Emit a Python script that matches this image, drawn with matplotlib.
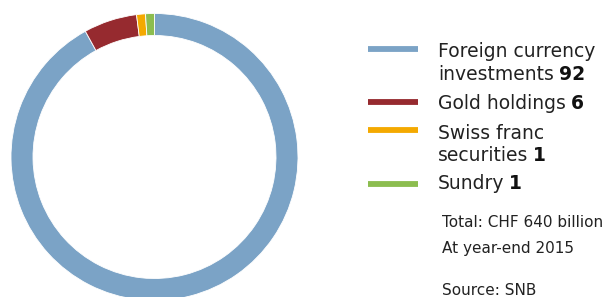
import matplotlib
matplotlib.use("Agg")
import matplotlib.pyplot as plt

# Data
categories = ["Foreign currency investments", "Gold holdings", "Swiss franc securities", "Sundry"]
values = [92, 6, 1, 1]
colors = ["#7BA3C6", "#962A2F", "#F4A900", "#8CBD4F"]
label_lines = [["Foreign currency", "investments"], ["Gold holdings"], ["Swiss franc", "securities"], ["Sundry"]]
notes = ["Total: CHF 640 billion", "At year-end 2015", "", "Source: SNB"]

W, H = 608, 297
DPI = 100
fig = plt.figure(figsize=(W / DPI, H / DPI), dpi=DPI)
ax = fig.add_axes([0, 0, 1, 1])

def Y(y_top):
    return H - y_top

# Donut: clockwise from top in order Foreign, Gold, Swiss, Sundry
ax.pie(values, colors=colors, startangle=90, counterclock=False,
       center=(154.5, Y(157)), radius=143.5,
       wedgeprops=dict(width=22, edgecolor="white", linewidth=0.6),
       frame=True)
ax.set_xlim(0, W)
ax.set_ylim(0, H)
ax.set_aspect("auto")
ax.axis("off")

renderer = fig.canvas.get_renderer()

# Legend
bar_y = [49, 102, 129.5, 184]
line_baselines = [[57, 80], [109], [139, 161], [189]]
fs = 13.5
fs_px = fs * DPI / 72
text_x = 438
for i, cat in enumerate(categories):
    ax.plot([368, 418], [Y(bar_y[i]), Y(bar_y[i])], color=colors[i], lw=4.2,
            solid_capstyle="butt")
    lines = label_lines[i]
    for j, ln in enumerate(lines):
        t = ax.text(text_x, Y(line_baselines[i][j]), ln, fontsize=fs,
                    color="#222222", va="baseline", ha="left")
        if j == len(lines) - 1:
            bb = t.get_window_extent(renderer)
            x_end = bb.x1 * W / fig.bbox.width + 0.26 * fs_px
            ax.text(x_end, Y(line_baselines[i][j]), str(values[i]), fontsize=fs,
                    fontweight="bold", color="#111111", va="baseline", ha="left")

# Notes
note_baselines = [227, 253, 275, 295]
for note, yb in zip(notes, note_baselines):
    if note:
        ax.text(442, Y(yb), note, fontsize=11, color="#222222", va="baseline", ha="left")

fig.savefig("out.png", dpi=DPI)
